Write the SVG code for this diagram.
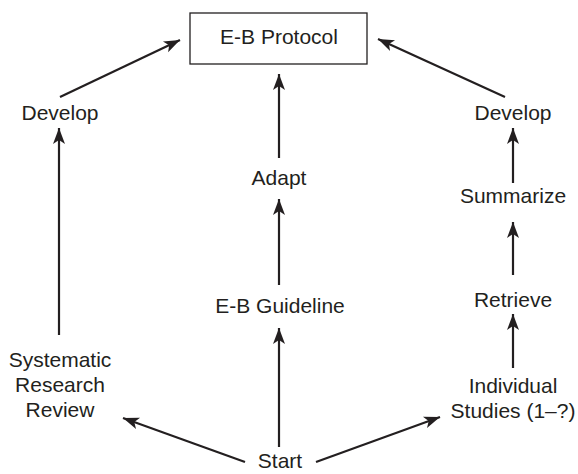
<svg xmlns="http://www.w3.org/2000/svg" width="578" height="474" viewBox="0 0 578 474">
<style>
text{font-family:"Liberation Sans",Arial,sans-serif;font-size:21px;fill:#231f20;text-anchor:middle}
.c{stroke:#231f20;stroke-width:2.2;fill:none;marker-end:url(#ah)}
</style>
<defs>
<marker id="ah" markerUnits="userSpaceOnUse" markerWidth="20" markerHeight="14" viewBox="-16 -7 18 14" refX="0" refY="0" orient="auto">
<path d="M0,0 L-16,-6 L-12,0 L-16,6 Z" fill="#231f20"/>
</marker>
</defs>
<rect width="578" height="474" fill="#fff"/>
<g id="connectors">
<line class="c" x1="60" y1="97" x2="180" y2="40"/>
<line class="c" x1="505" y1="97" x2="378" y2="39"/>
<line class="c" x1="279" y1="158" x2="279" y2="74"/>
<line class="c" x1="279" y1="285" x2="279" y2="199"/>
<line class="c" x1="279" y1="447" x2="279" y2="328"/>
<line class="c" x1="59" y1="335" x2="59" y2="128"/>
<line class="c" x1="513" y1="183" x2="513" y2="128"/>
<line class="c" x1="513" y1="275" x2="513" y2="222"/>
<line class="c" x1="513" y1="368" x2="513" y2="314"/>
<line class="c" x1="245" y1="462" x2="123" y2="418"/>
<line class="c" x1="316" y1="462" x2="440" y2="417"/>
</g>
<g id="protocol">
<rect x="190" y="13" width="177" height="51" fill="#fff" stroke="#231f20" stroke-width="1.3"/>
<text x="279" y="44">E-B Protocol</text>
</g>
<g id="develop-left"><text x="60" y="120">Develop</text></g>
<g id="develop-right"><text x="513" y="120">Develop</text></g>
<g id="adapt"><text x="279" y="185">Adapt</text></g>
<g id="guideline"><text x="280" y="313">E-B Guideline</text></g>
<g id="summarize"><text x="513" y="203">Summarize</text></g>
<g id="retrieve"><text x="513" y="307">Retrieve</text></g>
<g id="studies"><text x="513" y="393">Individual</text><text x="513" y="418">Studies (1–?)</text></g>
<g id="review"><text x="60" y="367">Systematic</text><text x="60" y="392">Research</text><text x="60" y="417">Review</text></g>
<g id="start"><text x="280" y="468">Start</text></g>
</svg>
